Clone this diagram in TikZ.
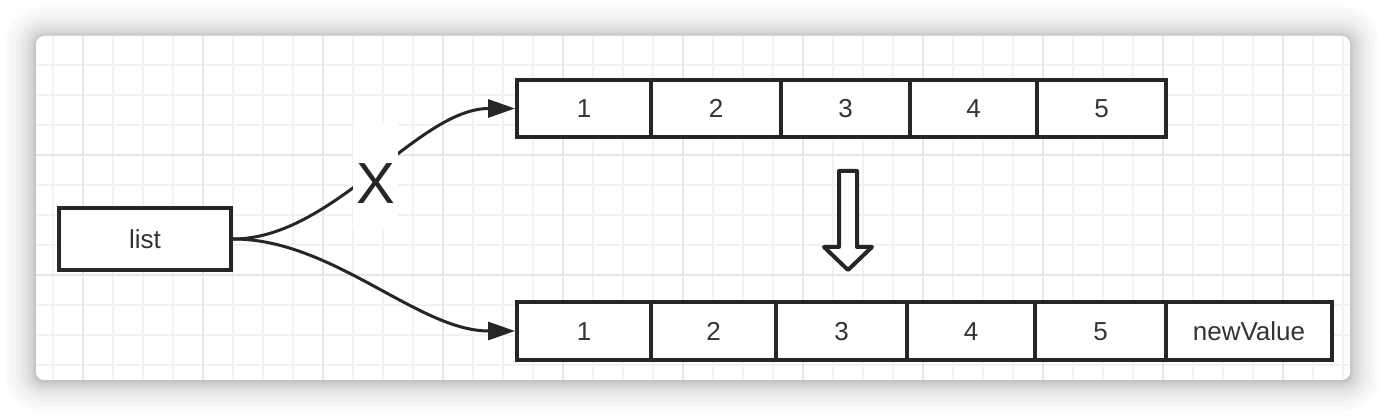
\documentclass[tikz,border=0pt]{standalone}
\usepackage{fontspec}
\setmainfont{Liberation Sans}
\usetikzlibrary{arrows.meta}
\definecolor{ink}{HTML}{262626}
\definecolor{txt}{HTML}{333333}
\definecolor{gridminor}{HTML}{F2F2F2}
\definecolor{gridmajor}{HTML}{E6E6E6}
\tikzset{
  cell/.style={draw=ink, line width=2pt, fill=white, inner sep=0pt, minimum height=28.5pt, text height=9.5pt, text depth=0pt, font=\fontsize{13pt}{15pt}\selectfont, text=txt},
  conn/.style={draw=ink, line width=1.5pt, -{Triangle[length=13.5pt,width=9pt]}},
  hollow/.style={draw=ink, line width=2pt, fill=white, line join=round},
}
\begin{document}
\begin{tikzpicture}[x=0.5pt,y=-0.5pt]
\useasboundingbox (0,0) rectangle (1386,416);
\fill[white] (0,0) rectangle (1386,416);
% shadow
\foreach \d in {1,2,3,4,6,8,10,13,16,20,25,30}{
  \fill[black, opacity=0.02, rounded corners=(8+\d)*0.5pt] (36-\d,37-\d) rectangle (1350+\d,381+\d);
}
\fill[white, rounded corners=4pt] (36,36) rectangle (1350,380);
% grid
\begin{scope}
\clip[rounded corners=4pt] (36,36) rectangle (1350,380);
\foreach \x in {53,83,...,1350}{
  \draw[gridminor, line width=1pt] (\x,36) -- (\x,380);
}
\foreach \y in {35,65,...,380}{
  \draw[gridminor, line width=1pt] (36,\y) -- (1350,\y);
}
\foreach \x in {83,203,...,1350}{
  \draw[gridmajor, line width=1pt] (\x,36) -- (\x,380);
}
\foreach \y in {35,155,...,380}{
  \draw[gridmajor, line width=1pt] (36,\y) -- (1350,\y);
}
\end{scope}
% list
\node[cell, minimum width=86pt, minimum height=31pt] (list) at (145,239) {list};
% top array
\node[cell, minimum width=67pt] (t1) at (584,108.5) {1};
\node[cell, minimum width=65pt] (t2) at (716,108.5) {2};
\node[cell, minimum width=64.5pt] (t3) at (845.5,108.5) {3};
\node[cell, minimum width=63.5pt] (t4) at (973.5,108.5) {4};
\node[cell, minimum width=64.5pt] (t5) at (1101.5,108.5) {5};
% bottom array
\node[cell, minimum width=67pt, minimum height=29pt] (b1) at (584,331) {1};
\node[cell, minimum width=62.5pt, minimum height=29pt] (b2) at (713.5,331) {2};
\node[cell, minimum width=65.5pt, minimum height=29pt] (b3) at (841.5,331) {3};
\node[cell, minimum width=64pt, minimum height=29pt] (b4) at (971,331) {4};
\node[cell, minimum width=65.5pt, minimum height=29pt] (b5) at (1100.5,331) {5};
\node[cell, minimum width=83pt, minimum height=29pt] (b6) at (1249,331) {newValue};
% connectors
\draw[conn] (list.east) .. controls +(100,0) and +(-97,0) .. (t1.west);
\draw[conn] (list.east) .. controls +(100,0) and +(-97,0) .. (b1.west);
\node[fill=white, inner sep=0pt, text height=40.5pt, text depth=12pt, minimum width=22.5pt, anchor=base, font=\fontsize{29pt}{32pt}\selectfont, text=ink] (xmark) at (375.5,204) {X};
% hollow down arrow
\draw[hollow] (839,171) -- (857,171) -- (857,247) -- (872,247) -- (848,270) -- (824,247) -- (839,247) -- cycle;
\end{tikzpicture}
\end{document}
